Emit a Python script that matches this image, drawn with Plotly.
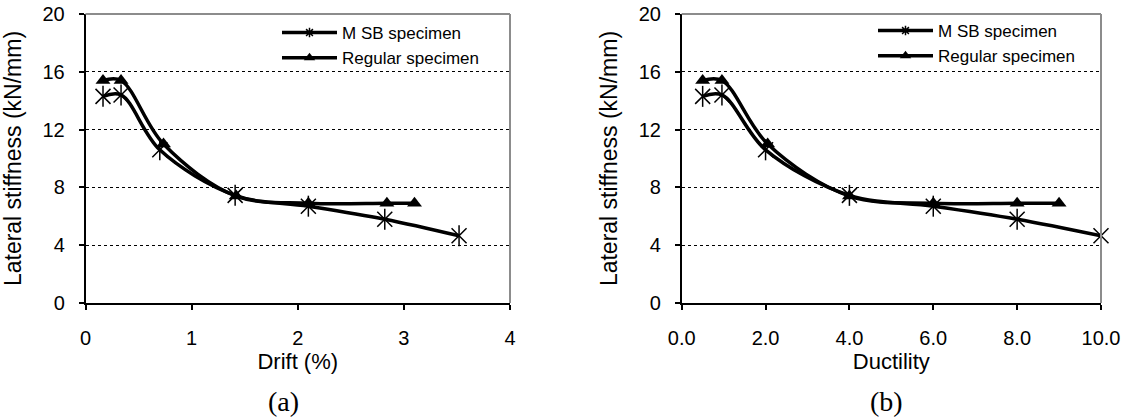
import plotly.graph_objects as go

# ---- data ----
drift_msb = [0.165, 0.335, 0.70, 1.41, 2.10, 2.82, 3.52]
drift_reg = [0.165, 0.335, 0.735, 1.42, 2.10, 2.84, 3.10]
duct_msb = [0.5, 0.96, 2.0, 4.0, 6.0, 8.0, 10.0]
duct_reg = [0.5, 0.96, 2.05, 4.0, 6.0, 8.0, 9.0]
stiff_msb = [14.3, 14.4, 10.6, 7.45, 6.7, 5.8, 4.65]
stiff_reg = [15.4, 15.4, 11.0, 7.4, 6.9, 6.9, 6.9]
y_ticks = [0, 4, 8, 12, 16, 20]
drift_ticks = [0, 1, 2, 3, 4]
duct_ticks = [0.0, 2.0, 4.0, 6.0, 8.0, 10.0]
name_msb = "M SB specimen"
name_reg = "Regular specimen"

W, H = 1131, 417
SANS = "Liberation Sans, Arial, sans-serif"
SERIF = "Liberation Serif, Times New Roman, serif"

fig = go.Figure()

panels = [
    dict(xa="x", ya="y", leg="legend", xm=drift_msb, xr=drift_reg),
    dict(xa="x2", ya="y2", leg="legend2", xm=duct_msb, xr=duct_reg),
]

for p in panels:
    # Regular specimen: smoothed line with filled triangles
    fig.add_trace(go.Scatter(
        x=p["xr"], y=stiff_reg, xaxis=p["xa"], yaxis=p["ya"], cliponaxis=False,
        mode="lines+markers", line=dict(color="black", width=3.5, shape="spline", smoothing=1),
        marker=dict(symbol="triangle-up", size=13, color="black"),
        showlegend=False, hoverinfo="x+y"))
    # MSB specimen: smoothed line with X markers
    fig.add_trace(go.Scatter(
        x=p["xm"], y=stiff_msb, xaxis=p["xa"], yaxis=p["ya"], cliponaxis=False,
        mode="lines+markers", line=dict(color="black", width=3.5, shape="spline", smoothing=1),
        marker=dict(symbol="x-thin-open", size=15, color="black", line=dict(color="black", width=1.5)),
        showlegend=False, hoverinfo="x+y"))
    # vertical stroke of the asterisk markers
    fig.add_trace(go.Scatter(
        x=p["xm"], y=stiff_msb, xaxis=p["xa"], yaxis=p["ya"], cliponaxis=False,
        mode="markers",
        marker=dict(symbol="line-ns-open", size=15, color="black", line=dict(color="black", width=1.5)),
        showlegend=False, hoverinfo="skip"))
    # legend entries
    fig.add_trace(go.Scatter(
        x=[None], y=[None], xaxis=p["xa"], yaxis=p["ya"], name=name_msb, legend=p["leg"],
        mode="lines+markers", line=dict(color="black", width=3.5),
        marker=dict(symbol="asterisk-open", size=8, color="black", line=dict(color="black", width=1.5))))
    fig.add_trace(go.Scatter(
        x=[None], y=[None], xaxis=p["xa"], yaxis=p["ya"], name=name_reg, legend=p["leg"],
        mode="lines+markers", line=dict(color="black", width=3.5),
        marker=dict(symbol="triangle-up", size=10, color="black")))

ydom = [1 - 303 / H, 1 - 14 / H]
xdom_a = [85.5 / W, 510 / W]
xdom_b = [681.7 / W, 1101 / W]

common_y = dict(
    range=[0, 20], tickvals=y_ticks, showgrid=True, gridcolor="black", gridwidth=1, griddash="dot",
    zeroline=False, showline=True, linecolor="black", linewidth=1.5,
    ticks="outside", ticklen=5, tickcolor="black", tickwidth=1.5,
    tickfont=dict(family=SANS, size=20, color="black"), ticklabelstandoff=10,
    title=dict(text="Lateral stiffness (kN/mm)", font=dict(family=SANS, size=23, color="black"), standoff=15),
    automargin=False, domain=ydom, fixedrange=True)
common_x = dict(
    showgrid=False, zeroline=False, showline=True, linecolor="black", linewidth=1.5,
    ticks="outside", ticklen=5, tickcolor="black", tickwidth=1.5,
    tickfont=dict(family=SANS, size=20, color="black"), ticklabelstandoff=11,
    automargin=False, fixedrange=True)

legend_common = dict(xanchor="left", yanchor="top", bgcolor="rgba(0,0,0,0)", itemwidth=55,
                     font=dict(family=SANS, size=17, color="black"), tracegroupgap=0)

fig.update_layout(
    width=W, height=H, margin=dict(l=0, r=0, t=0, b=0),
    paper_bgcolor="white", plot_bgcolor="white",
    xaxis=dict(common_x, domain=xdom_a, range=[0, 4], tickvals=drift_ticks,
               title=dict(text="Drift (%)", font=dict(family=SANS, size=22, color="black"), standoff=2),
               anchor="y"),
    yaxis=dict(common_y, anchor="x"),
    xaxis2=dict(common_x, domain=xdom_b, range=[0, 10], tickvals=duct_ticks, tickformat=".1f",
                title=dict(text="Ductility", font=dict(family=SANS, size=22, color="black"), standoff=2),
                anchor="y2"),
    yaxis2=dict(common_y, anchor="x2"),
    legend=dict(legend_common, x=277 / W, y=1 - 15 / H),
    legend2=dict(legend_common, x=873 / W, y=1 - 13 / H),
    showlegend=True,
    annotations=[
        dict(text="(a)", x=283 / W, y=1 - 401 / H, xref="paper", yref="paper", showarrow=False,
             xanchor="center", yanchor="middle", font=dict(family=SERIF, size=28, color="black")),
        dict(text="(b)", x=886 / W, y=1 - 401 / H, xref="paper", yref="paper", showarrow=False,
             xanchor="center", yanchor="middle", font=dict(family=SERIF, size=28, color="black")),
    ],
)

# grey top and right frame lines
for xr, yr in (("x domain", "y domain"), ("x2 domain", "y2 domain")):
    fig.add_shape(type="line", xref=xr, yref=yr, x0=0, x1=1, y0=1, y1=1,
                  line=dict(color="#8c8c8c", width=2), layer="above")
    fig.add_shape(type="line", xref=xr, yref=yr, x0=1, x1=1, y0=0, y1=1,
                  line=dict(color="#8c8c8c", width=2), layer="above")

fig.write_html("out.html")
